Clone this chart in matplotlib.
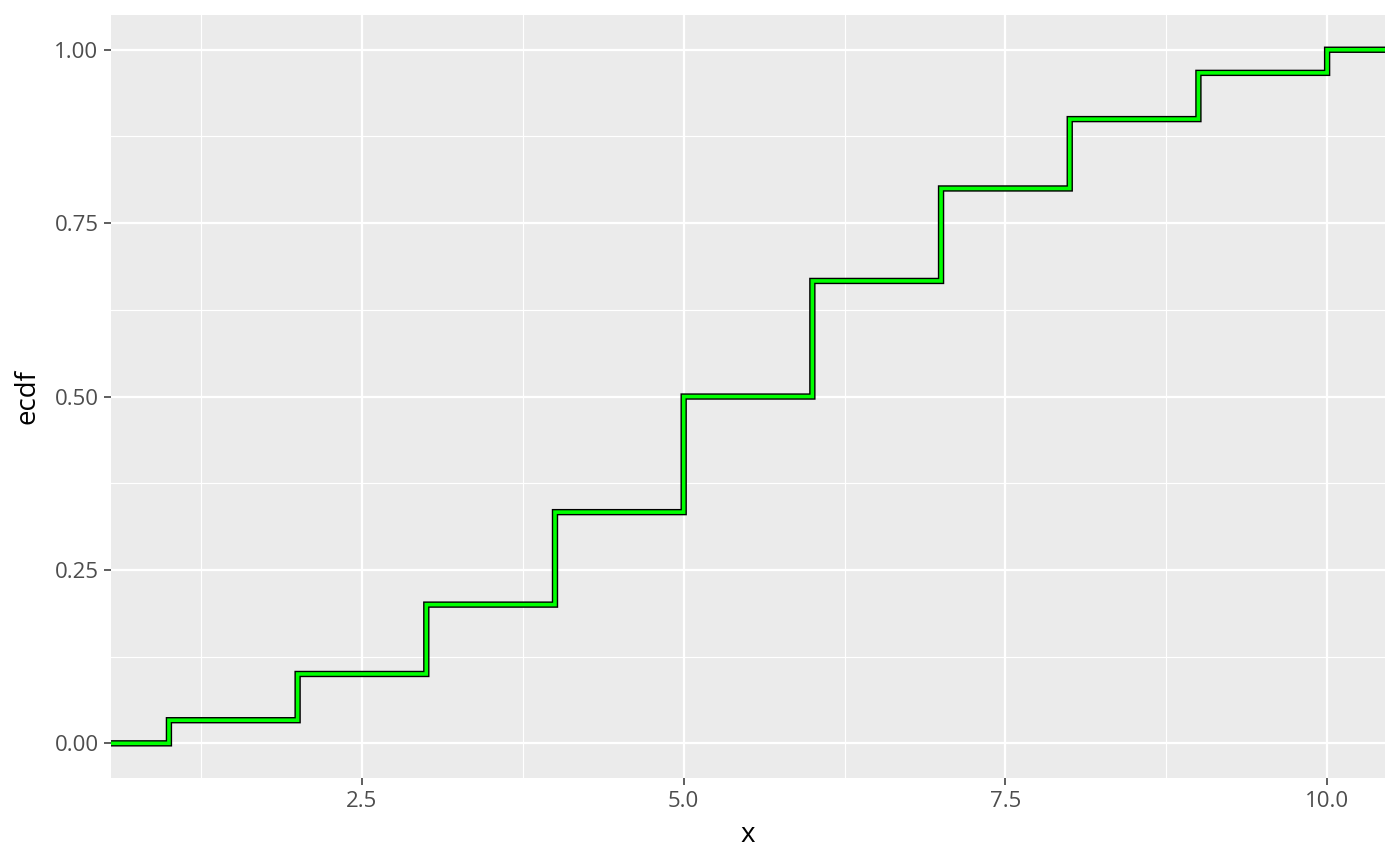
import numpy as np
import matplotlib
matplotlib.use("Agg")
import matplotlib.pyplot as plt

plt.rcParams["font.family"] = ["Open Sans", "DejaVu Sans"]

# observed values and how often each appears
values = [1, 2, 3, 4, 5, 6, 7, 8, 9, 10]
counts = [1, 2, 3, 4, 5, 5, 4, 3, 2, 1]

x_ticks = [2.5, 5.0, 7.5, 10.0]
x_labels = ["2.5", "5.0", "7.5", "10.0"]
y_ticks = [0.0, 0.25, 0.5, 0.75, 1.0]
y_labels = ["0.00", "0.25", "0.50", "0.75", "1.00"]

ecdf = np.cumsum(counts) / np.sum(counts)

# pad to the panel edges like ggplot's stat_ecdf
xlo, xhi = 0.55, 10.45
xs = [xlo] + values + [xhi]
ys = [0.0] + list(ecdf) + [1.0]

fig = plt.figure(figsize=(14, 8.66), dpi=100)
ax = fig.add_axes([0.0793, 0.1016, 0.91, 0.881])
ax.set_facecolor("#EBEBEB")

ax.set_xlim(xlo, xhi)
ax.set_ylim(-0.05, 1.05)

for v in [1.25, 3.75, 6.25, 8.75]:
    ax.axvline(v, color="white", lw=0.8, zorder=0)
for v in [0.125, 0.375, 0.625, 0.875]:
    ax.axhline(v, color="white", lw=0.8, zorder=0)
for v in x_ticks:
    ax.axvline(v, color="white", lw=1.6, zorder=0)
for v in y_ticks:
    ax.axhline(v, color="white", lw=1.6, zorder=0)

# outline then fill, same path (no snapping so they stay centred)
ax.step(xs, ys, where="post", color="black", lw=4.6, zorder=3,
        solid_joinstyle="miter", solid_capstyle="butt", snap=False)
ax.step(xs, ys, where="post", color="#00FF00", lw=2.6, zorder=4,
        solid_joinstyle="miter", solid_capstyle="butt", snap=False)

ax.set_xticks(x_ticks)
ax.set_xticklabels(x_labels)
ax.set_yticks(y_ticks)
ax.set_yticklabels(y_labels)
ax.tick_params(colors="#333333", length=5, width=1.1, labelsize=16,
               labelcolor="#4D4D4D", pad=4)
for s in ax.spines.values():
    s.set_visible(False)

ax.set_xlabel("x", fontsize=20, color="black", labelpad=7)
ax.set_ylabel("ecdf", fontsize=20, color="black", labelpad=9)

fig.savefig("out.png", dpi=100, facecolor="white")
